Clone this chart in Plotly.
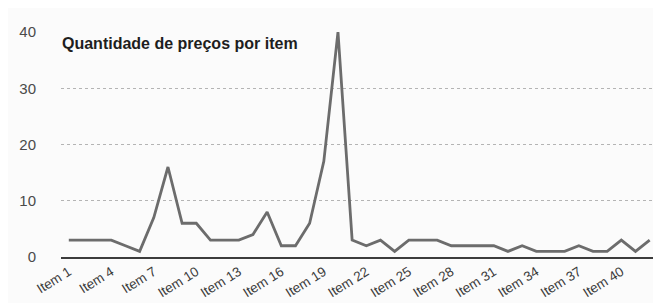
import plotly.graph_objects as go

items = [f"Item {i}" for i in range(1, 43)]
values = [3, 3, 3, 3, 2, 1, 7, 16, 6, 6,
          3, 3, 3, 4, 8, 2, 2, 6, 17, 40,
          3, 2, 3, 1, 3, 3, 3, 2, 2, 2,
          2, 1, 2, 1, 1, 1, 2, 1, 1, 3,
          1, 3]
tick_labels = [f"Item {i}" for i in range(1, 43, 3)]
y_ticks = [0, 10, 20, 30, 40]
title_text = "Quantidade de preços por item"

fig = go.Figure()
fig.add_trace(go.Scatter(
    x=items, y=values, mode="lines",
    line=dict(color="#6c6c6c", width=2.8),
    hoverinfo="x+y", showlegend=False,
))

fig.update_layout(
    width=661, height=303,
    margin=dict(l=53, r=8, t=24, b=54),
    paper_bgcolor="#fbfbfb", plot_bgcolor="#fbfbfb",
    font=dict(family="Liberation Sans, Arial, sans-serif", size=13, color="#4a4a4a"),
    annotations=[dict(
        text="<b>" + title_text + "</b>", xref="paper", yref="paper",
        x=-0.001, y=0.948, xanchor="left", yanchor="middle", showarrow=False,
        font=dict(size=16, color="#1e1e1e"),
    )],
)
fig.update_xaxes(
    type="category", range=[-0.55, 41.8],
    tickmode="array", tickvals=tick_labels, ticktext=tick_labels,
    tickangle=-32, tickfont=dict(size=13.5, color="#3a3a3a"),
    showgrid=False, showline=True, linecolor="#3c3c3c", linewidth=1.6,
    ticks="", zeroline=False,
)
fig.update_yaxes(
    range=[0, 40], tickvals=y_ticks,
    showgrid=True, gridcolor="#b4b4b4", griddash="dot", gridwidth=1,
    zeroline=False, showline=False, ticks="",
    tickfont=dict(size=15, color="#4a4a4a"), ticklabelstandoff=24,
)

fig.write_html("out.html")
